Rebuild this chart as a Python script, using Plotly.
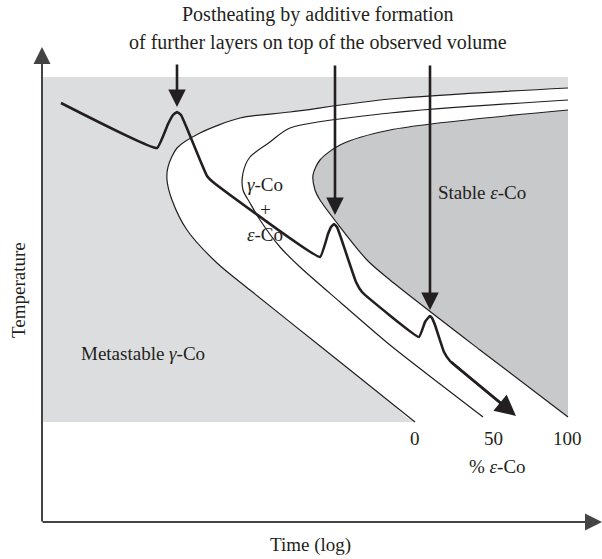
import plotly.graph_objects as go

# ---- schematic data (pixel-like coordinates of the diagram, y grows downward) ----
# TTT-like curves for 0 %, 50 % and 100 % epsilon-Co
outer_x = [568, 390, 290, 240, 200, 177, 168, 167, 172, 187, 217, 250, 320, 390, 415]
outer_y = [88, 99, 112, 118, 133, 148, 167, 180, 200, 230, 263, 290, 346, 402, 422]

middle_x = [568, 390, 290, 270, 250, 243, 243, 250, 260, 280, 300, 340, 390, 440, 483]
middle_y = [100, 113, 128, 142, 157, 173, 190, 203, 220, 247, 267, 302, 345, 384, 417]

inner_x = [568, 390, 340, 320, 313, 315, 320, 337, 367, 390, 480, 568]
inner_y = [110, 130, 145, 160, 175, 190, 200, 223, 260, 280, 350, 417]

# thermal history path (thick line)
path_x = [61, 157, 168, 173, 177, 181, 186, 200, 207, 213, 320, 328, 331, 334, 337, 341,
          356, 362, 419, 425, 428, 430, 432, 435, 444, 450, 502]
path_y = [103, 148, 124, 115, 112, 115, 126, 160, 176, 182, 257, 234, 227, 224, 227, 238,
          282, 292, 337, 322, 318, 316, 318, 325, 352, 361, 404]
path_head = (516, 416)

# postheating arrows: x, top, tip
arrow_x = [177, 335, 430]
arrow_top = [63, 64, 64]
arrow_tip = [107, 215, 310]

# diagram frame
region_x = [42, 568]
region_y = [77, 422]
axis_origin = (42, 522)
axis_ends = (602, 47)

pct_labels = ["0", "50", "100"]
pct_x = [415, 493, 567]
pct_y = 438

LIGHT = "#dcdddf"
DARK = "#c8c9cb"
INK = "#231f20"
FONT = "Liberation Serif"

fig = go.Figure()

# light gray background region
fig.add_trace(go.Scatter(
    x=[region_x[0], region_x[1], region_x[1], region_x[0]],
    y=[region_y[0], region_y[0], region_y[1], region_y[1]],
    fill="toself", fillcolor=LIGHT, line=dict(width=0), mode="lines",
    hoverinfo="skip", showlegend=False))

# white band right of outer curve
fig.add_trace(go.Scatter(
    x=outer_x + [region_x[1]], y=outer_y + [region_y[1]],
    fill="toself", fillcolor="white", line=dict(width=0, shape="spline", smoothing=0.8),
    mode="lines", hoverinfo="skip", showlegend=False))

# dark gray stable region
fig.add_trace(go.Scatter(
    x=inner_x, y=inner_y,
    fill="toself", fillcolor=DARK, line=dict(width=0, shape="spline", smoothing=0.8),
    mode="lines", hoverinfo="skip", showlegend=False))

# curve outlines
for cx, cy in [(outer_x, outer_y), (middle_x, middle_y), (inner_x, inner_y)]:
    fig.add_trace(go.Scatter(
        x=cx, y=cy, mode="lines",
        line=dict(color=INK, width=1.2, shape="spline", smoothing=0.8),
        hoverinfo="skip", showlegend=False))

# thick path
fig.add_trace(go.Scatter(
    x=path_x, y=path_y, mode="lines",
    line=dict(color=INK, width=2.6, shape="spline", smoothing=0.3),
    hoverinfo="skip", showlegend=False))

annotations = []
# arrowhead at end of path
annotations.append(dict(
    x=path_head[0], y=path_head[1], ax=path_x[-2], ay=path_y[-2],
    xref="x", yref="y", axref="x", ayref="y", text="", showarrow=True,
    arrowhead=2, arrowsize=1.6, arrowwidth=2.6, arrowcolor=INK))

# vertical postheating arrows
for ax_, top, tip in zip(arrow_x, arrow_top, arrow_tip):
    annotations.append(dict(
        x=ax_, y=tip, ax=ax_, ay=top,
        xref="x", yref="y", axref="x", ayref="y", text="", showarrow=True,
        arrowhead=2, arrowsize=1.35, arrowwidth=2.6, arrowcolor=INK))

# axes arrows
annotations.append(dict(
    x=axis_origin[0], y=axis_ends[1], ax=axis_origin[0], ay=axis_origin[1] + 1,
    xref="x", yref="y", axref="x", ayref="y", text="", showarrow=True,
    arrowhead=2, arrowsize=1.7, arrowwidth=2, arrowcolor="#444"))
annotations.append(dict(
    x=axis_ends[0], y=axis_origin[1], ax=axis_origin[0] - 1, ay=axis_origin[1],
    xref="x", yref="y", axref="x", ayref="y", text="", showarrow=True,
    arrowhead=2, arrowsize=1.7, arrowwidth=2, arrowcolor="#444"))

def txt(x, y, s, size=19, **kw):
    d = dict(x=x, y=y, xref="x", yref="y", text=s, showarrow=False,
             font=dict(family=FONT, size=size, color=INK))
    d.update(kw)
    annotations.append(d)

txt(318, 14, "Postheating by additive formation", size=20)
txt(318, 42, "of further layers on top of the observed volume", size=20)
txt(143, 353, "Metastable <i>γ</i>-Co")
txt(482, 192, "Stable <i>ε</i>-Co")
txt(265, 184, "<i>γ</i>-Co")
txt(265, 209, "+")
txt(265, 234, "<i>ε</i>-Co")
for lab, lx in zip(pct_labels, pct_x):
    txt(lx, pct_y, lab)
txt(497, 466, "% <i>ε</i>-Co")
txt(310, 545, "Time (log)")
txt(18, 290, "Temperature", textangle=-90)

fig.update_layout(
    width=602, height=559,
    margin=dict(l=0, r=0, t=0, b=0),
    paper_bgcolor="white", plot_bgcolor="white",
    xaxis=dict(range=[0, 602], visible=False, fixedrange=True),
    yaxis=dict(range=[559, 0], visible=False, fixedrange=True),
    annotations=annotations,
)

fig.write_html("out.html")
